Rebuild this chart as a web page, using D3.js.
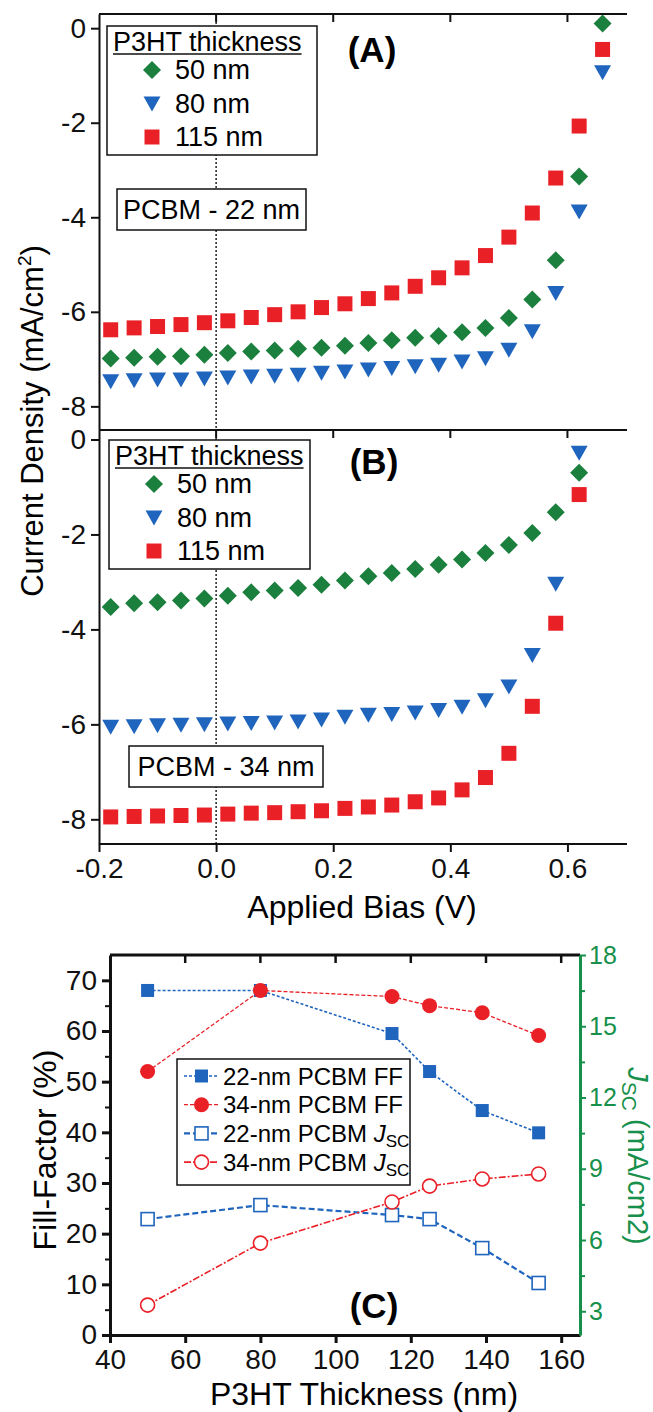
<!DOCTYPE html>
<html>
<head>
<meta charset="utf-8">
<script src="https://cdn.jsdelivr.net/npm/d3@7"></script>
<style>
  body { margin: 0; background: #fff; }
  svg text { font-family: "Liberation Sans", Arial, sans-serif; }
</style>
</head>
<body>
<div id="chart"></div>
<script>
// J-V curves, panels A and B (bias in V, current density in mA/cm2)
var biasA = [-0.18, -0.14, -0.10, -0.06, -0.02, 0.02, 0.06, 0.10, 0.14, 0.18, 0.22,
             0.26, 0.30, 0.34, 0.38, 0.42, 0.46, 0.50, 0.54, 0.58, 0.62, 0.66];
var biasB = [-0.18, -0.14, -0.10, -0.06, -0.02, 0.02, 0.06, 0.10, 0.14, 0.18, 0.22,
             0.26, 0.30, 0.34, 0.38, 0.42, 0.46, 0.50, 0.54, 0.58, 0.62];

var jA50  = [-6.99, -6.97, -6.95, -6.94, -6.91, -6.87, -6.84, -6.82, -6.78, -6.76, -6.72,
             -6.66, -6.60, -6.55, -6.51, -6.43, -6.34, -6.13, -5.74, -4.91, -3.14, 0.10];
var jA80  = [-7.47, -7.45, -7.43, -7.43, -7.41, -7.39, -7.37, -7.35, -7.33, -7.29, -7.26,
             -7.22, -7.19, -7.15, -7.12, -7.05, -6.98, -6.80, -6.41, -5.60, -3.88, -0.93];
var jA115 = [-6.38, -6.34, -6.31, -6.27, -6.23, -6.19, -6.12, -6.06, -6.00, -5.91, -5.83,
             -5.72, -5.60, -5.46, -5.28, -5.07, -4.81, -4.42, -3.91, -3.17, -2.07, -0.45];

var jB50  = [-3.53, -3.45, -3.43, -3.39, -3.35, -3.29, -3.22, -3.18, -3.13, -3.06, -2.97,
             -2.88, -2.81, -2.73, -2.64, -2.53, -2.39, -2.22, -1.97, -1.53, -0.70];
var jB80  = [-6.05, -6.04, -6.02, -6.01, -6.00, -5.98, -5.97, -5.96, -5.94, -5.90, -5.84,
             -5.80, -5.78, -5.75, -5.70, -5.63, -5.49, -5.20, -4.54, -3.04, -0.28];
var jB115 = [-7.95, -7.94, -7.93, -7.92, -7.91, -7.89, -7.87, -7.86, -7.84, -7.82, -7.77,
             -7.74, -7.70, -7.63, -7.55, -7.38, -7.12, -6.61, -5.62, -3.87, -1.16];

var legendNames = ["50 nm", "80 nm", "115 nm"];

// panel C
var thickness = [50, 80, 115, 125, 139, 154];
var ff22  = [68.0, 68.0, 59.5, 52.0, 44.3, 39.9];
var ff34  = [52.0, 68.0, 66.8, 65.0, 63.6, 59.1];
var jsc22 = [6.88, 7.47, 7.05, 6.88, 5.66, 4.19];
var jsc34 = [3.26, 5.87, 7.60, 8.27, 8.57, 8.78];

var biasTicks = [-0.2, 0.0, 0.2, 0.4, 0.6];
var jTicks = [0, -2, -4, -6, -8];
var thickTicks = [40, 60, 80, 100, 120, 140, 160];
var ffTicks = [0, 10, 20, 30, 40, 50, 60, 70];
var ffMinor = [5, 15, 25, 35, 45, 55, 65];
var jscTicks = [3, 6, 9, 12, 15, 18];
var jscMinor = [4.5, 7.5, 10.5, 13.5, 16.5];

var green = "#1b7f3d", blue = "#1f64bd", red = "#ea2027", axisGreen = "#17904c";

var svg = d3.select("#chart").append("svg")
    .attr("width", 653)
    .attr("height", 1412);

var x = d3.scaleLinear().domain([-0.2, 0.7]).range([99, 626]);
var yA = d3.scaleLinear().domain([-8.5, 0.3]).range([430, 14]);
var yB = d3.scaleLinear().domain([-8.52, 0.2]).range([844, 430]);

var shapes = {
    diamond: "M0,-9L9,0L0,9L-9,0Z",
    triangle: "M-8.5,-7L8.5,-7L0,8Z",
    square: "M-7.5,-7.5h15v15h-15Z"
};

function drawJV(y, series, panelTop, panelBottom) {
    // dotted line at 0 V
    svg.append("line")
        .attr("x1", x(0)).attr("x2", x(0))
        .attr("y1", panelTop).attr("y2", panelBottom)
        .attr("stroke", "#000").attr("stroke-width", 1.3)
        .attr("stroke-dasharray", "2,2");

    series.forEach(function(s) {
        svg.append("g").selectAll("path")
            .data(s.values.map(function(v, i) { return {x: s.bias[i], y: v}; }))
            .enter().append("path")
            .attr("d", shapes[s.shape])
            .attr("fill", s.color)
            .attr("transform", function(d) { return "translate(" + x(d.x) + "," + y(d.y) + ")"; });
    });

    var yAxis = d3.axisLeft(y)
        .tickValues(jTicks)
        .tickSize(8)
        .tickSizeOuter(0)
        .tickPadding(5)
        .tickFormat(function(d) { return String(d); });

    var g = svg.append("g")
        .attr("transform", "translate(" + x.range()[0] + ",0)")
        .call(yAxis);
    styleAxis(g, 28, "#111");

    // inward top ticks
    svg.append("g").selectAll("line")
        .data(biasTicks.slice(1))
        .enter().append("line")
        .attr("x1", function(d) { return x(d); })
        .attr("x2", function(d) { return x(d); })
        .attr("y1", panelTop).attr("y2", panelTop + 8)
        .attr("stroke", "#111").attr("stroke-width", 2);

    svg.append("line")
        .attr("x1", x.range()[0]).attr("x2", x.range()[1] + 1)
        .attr("y1", panelTop).attr("y2", panelTop)
        .attr("stroke", "#111").attr("stroke-width", 2);
}

function styleAxis(g, size, color) {
    g.selectAll(".domain").attr("stroke", color).attr("stroke-width", 2);
    g.selectAll(".tick line").attr("stroke", color).attr("stroke-width", 2);
    g.selectAll(".tick text")
        .attr("fill", color)
        .style("font-size", size + "px")
        .style("font-family", "'Liberation Sans', Arial, sans-serif");
}

function legendJV(top, left, width, height, rows) {
    svg.append("rect")
        .attr("x", left).attr("y", top)
        .attr("width", width).attr("height", height)
        .attr("fill", "#fff").attr("stroke", "#111").attr("stroke-width", 1.5);
    var title = svg.append("text")
        .attr("x", left + 6).attr("y", top + 25)
        .style("font-size", "27px")
        .text("P3HT thickness");
    var w = title.node().getComputedTextLength();
    svg.append("line")
        .attr("x1", left + 6).attr("x2", left + 6 + w)
        .attr("y1", top + 28).attr("y2", top + 28)
        .attr("stroke", "#111").attr("stroke-width", 1.5);
    rows.forEach(function(r, i) {
        var cy = top + 44 + i * 33.5;
        svg.append("path")
            .attr("d", shapes[r.shape])
            .attr("fill", r.color)
            .attr("transform", "translate(" + (left + 45) + "," + cy + ")");
        svg.append("text")
            .attr("x", left + 68).attr("y", cy + 9)
            .style("font-size", "27px")
            .text(legendNames[i]);
    });
}

function labelBox(text, cx, top, w, h) {
    svg.append("rect")
        .attr("x", cx - w / 2).attr("y", top)
        .attr("width", w).attr("height", h)
        .attr("fill", "#fff").attr("stroke", "#111").attr("stroke-width", 1.5);
    svg.append("text")
        .attr("x", cx).attr("y", top + h / 2 + 9)
        .attr("text-anchor", "middle")
        .style("font-size", "27px")
        .text(text);
}

var rowsJV = [
    {shape: "diamond", color: green},
    {shape: "triangle", color: blue},
    {shape: "square", color: red}
];

// Panel A
drawJV(yA, [
    {bias: biasA, values: jA115, shape: "square", color: red},
    {bias: biasA, values: jA50, shape: "diamond", color: green},
    {bias: biasA, values: jA80, shape: "triangle", color: blue}
], 14, 430);
legendJV(26, 107, 210, 129, rowsJV);
labelBox("PCBM - 22 nm", 211.5, 189, 189, 41);
svg.append("text")
    .attr("x", 372).attr("y", 62)
    .attr("text-anchor", "middle")
    .style("font-size", "35px").style("font-weight", "bold")
    .text("(A)");

// Panel B
drawJV(yB, [
    {bias: biasB, values: jB115, shape: "square", color: red},
    {bias: biasB, values: jB80, shape: "triangle", color: blue},
    {bias: biasB, values: jB50, shape: "diamond", color: green}
], 430, 844);
legendJV(440, 109, 201, 129, rowsJV);
labelBox("PCBM - 34 nm", 226, 746, 194, 41);
svg.append("text")
    .attr("x", 374).attr("y", 474)
    .attr("text-anchor", "middle")
    .style("font-size", "35px").style("font-weight", "bold")
    .text("(B)");

// bottom axis, panel B
var xAxis = d3.axisBottom(x)
    .tickValues(biasTicks)
    .tickSize(8)
    .tickSizeOuter(0)
    .tickPadding(6)
    .tickFormat(function(d) { return d.toFixed(1); });
var gx = svg.append("g")
    .attr("transform", "translate(0,844)")
    .call(xAxis);
styleAxis(gx, 28, "#111");
gx.select(".domain").attr("d", "M" + x.range()[0] + ",0H" + (x.range()[1] + 1));

svg.append("text")
    .attr("x", 362).attr("y", 918)
    .attr("text-anchor", "middle")
    .style("font-size", "32px")
    .text("Applied Bias (V)");

var yTitle = svg.append("text")
    .attr("transform", "translate(43,421) rotate(-90)")
    .attr("text-anchor", "middle")
    .style("font-size", "31px");
yTitle.append("tspan").text("Current Density (mA/cm");
yTitle.append("tspan").attr("dy", -12).style("font-size", "19px").text("2");
yTitle.append("tspan").attr("dy", 12).text(")");

// Panel C
var xc = d3.scaleLinear().domain([40, 165]).range([110, 580]);
var yff = d3.scaleLinear().domain([0, 75]).range([1335, 955]);
var yjsc = d3.scaleLinear().domain([2, 18]).range([1335, 955]);

var gcx = svg.append("g")
    .attr("transform", "translate(0,1335)")
    .call(d3.axisBottom(xc).tickValues(thickTicks).tickSize(8).tickSizeOuter(0).tickPadding(6)
        .tickFormat(function(d) { return String(d); }));
styleAxis(gcx, 28, "#111");
gcx.selectAll(".domain, .tick line").attr("stroke-width", 3);

svg.append("g").selectAll("line")
    .data(thickTicks.slice(1))
    .enter().append("line")
    .attr("x1", function(d) { return xc(d); })
    .attr("x2", function(d) { return xc(d); })
    .attr("y1", 955).attr("y2", 963)
    .attr("stroke", "#111").attr("stroke-width", 2.5);
svg.append("line")
    .attr("x1", 110).attr("x2", 580)
    .attr("y1", 955).attr("y2", 955)
    .attr("stroke", "#111").attr("stroke-width", 3);

var gly = svg.append("g")
    .attr("transform", "translate(110,0)")
    .call(d3.axisLeft(yff).tickValues(ffTicks).tickSize(8).tickSizeOuter(0).tickPadding(5)
        .tickFormat(function(d) { return String(d); }));
styleAxis(gly, 28, "#111");
gly.selectAll(".domain, .tick line").attr("stroke-width", 3);
var glyMinor = svg.append("g")
    .attr("transform", "translate(110,0)")
    .call(d3.axisLeft(yff).tickValues(ffMinor).tickSize(5).tickSizeOuter(0).tickFormat(""));
styleAxis(glyMinor, 28, "#111");
glyMinor.select(".domain").remove();

var gry = svg.append("g")
    .attr("transform", "translate(580,0)")
    .call(d3.axisRight(yjsc).tickValues(jscTicks).tickSize(6).tickSizeOuter(0).tickPadding(3)
        .tickFormat(function(d) { return String(d); }));
styleAxis(gry, 25, axisGreen);
gry.selectAll(".domain").attr("stroke-width", 3);
var gryMinor = svg.append("g")
    .attr("transform", "translate(580,0)")
    .call(d3.axisRight(yjsc).tickValues(jscMinor).tickSize(5).tickSizeOuter(0).tickFormat(""));
styleAxis(gryMinor, 25, axisGreen);
gryMinor.select(".domain").remove();

var seriesC = [
    {values: ff22, y: yff, color: blue, dash: "3,2", width: 1.6, marker: "square", filled: true},
    {values: ff34, y: yff, color: red, dash: "4,2", width: 1.3, marker: "circle", filled: true},
    {values: jsc22, y: yjsc, color: blue, dash: "6,3", width: 2.2, marker: "square", filled: false},
    {values: jsc34, y: yjsc, color: red, dash: "7,2,2,2", width: 1.6, marker: "circle", filled: false}
];

function drawMarker(g, s, px, py) {
    if (s.marker === "square") {
        g.append("rect")
            .attr("x", px - 6.5).attr("y", py - 6.5)
            .attr("width", 13).attr("height", 13)
            .attr("fill", s.filled ? s.color : "#fff")
            .attr("stroke", s.color).attr("stroke-width", s.filled ? 0 : 1.6);
    } else {
        g.append("circle")
            .attr("cx", px).attr("cy", py)
            .attr("r", s.filled ? 7.5 : 7)
            .attr("fill", s.filled ? s.color : "#fff")
            .attr("stroke", s.color).attr("stroke-width", s.filled ? 0 : 1.6);
    }
}

seriesC.forEach(function(s) {
    var line = d3.line()
        .x(function(d, i) { return xc(thickness[i]); })
        .y(function(d) { return s.y(d); });
    svg.append("path")
        .datum(s.values)
        .attr("d", line)
        .attr("fill", "none")
        .attr("stroke", s.color)
        .attr("stroke-width", s.width)
        .attr("stroke-dasharray", s.dash);
});
seriesC.forEach(function(s) {
    var g = svg.append("g");
    s.values.forEach(function(v, i) { drawMarker(g, s, xc(thickness[i]), s.y(v)); });
});

// legend C
var legC = svg.append("g");
legC.append("rect")
    .attr("x", 177).attr("y", 1059)
    .attr("width", 233).attr("height", 126)
    .attr("fill", "#fff").attr("stroke", "#111").attr("stroke-width", 1.5);
var legLabels = [
    {pre: "22-nm PCBM FF", jsc: false},
    {pre: "34-nm PCBM FF", jsc: false},
    {pre: "22-nm PCBM ", jsc: true},
    {pre: "34-nm PCBM ", jsc: true}
];
seriesC.forEach(function(s, i) {
    var cy = 1076 + i * 28.7;
    legC.append("line")
        .attr("x1", 184).attr("x2", 219)
        .attr("y1", cy).attr("y2", cy)
        .attr("stroke", s.color).attr("stroke-width", s.width)
        .attr("stroke-dasharray", s.dash);
    drawMarker(legC, s, 201.5, cy);
    var t = legC.append("text")
        .attr("x", 223).attr("y", cy + 8.5)
        .style("font-size", "24px");
    t.append("tspan").text(legLabels[i].pre);
    if (legLabels[i].jsc) {
        t.append("tspan").style("font-style", "italic").text("J");
        t.append("tspan").attr("dy", 5).style("font-size", "17px").text("SC");
    }
});

svg.append("text")
    .attr("x", 374).attr("y", 1318)
    .attr("text-anchor", "middle")
    .style("font-size", "35px").style("font-weight", "bold")
    .text("(C)");

svg.append("text")
    .attr("x", 364).attr("y", 1405)
    .attr("text-anchor", "middle")
    .style("font-size", "32px")
    .text("P3HT Thickness (nm)");

svg.append("text")
    .attr("transform", "translate(56,1150) rotate(-90)")
    .attr("text-anchor", "middle")
    .style("font-size", "32px")
    .text("Fill-Factor (%)");

var rTitle = svg.append("text")
    .attr("transform", "translate(628,1156) rotate(90)")
    .attr("text-anchor", "middle")
    .attr("fill", axisGreen)
    .style("font-size", "29px");
rTitle.append("tspan").style("font-style", "italic").text("J");
rTitle.append("tspan").attr("dy", 6).style("font-size", "21px").text("SC");
rTitle.append("tspan").attr("dy", -6).text(" (mA/cm2)");
</script>
</body>
</html>
